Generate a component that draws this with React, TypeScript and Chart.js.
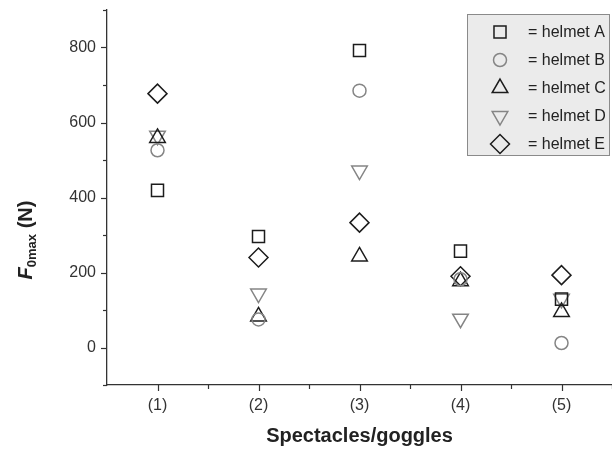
import React, { useEffect, useRef } from "react";
import { Chart, registerables } from "chart.js";
import { drawPoint } from "chart.js/helpers";

Chart.register(...registerables);

const categories = ["(1)", "(2)", "(3)", "(4)", "(5)"];
const yTickValues = [0, 200, 400, 600, 800];
const helmetA = [419, 296, 792, 257, 129];
const helmetB = [526, 75, 685, 182, 12];
const helmetC = [559, 83, 243, 177, 95];
const helmetD = [565, 144, 472, 77, 130];
const helmetE = [677, 240, 333, 190, 193];
const seriesNames = ["= helmet A", "= helmet B", "= helmet C", "= helmet D", "= helmet E"];

const DARK = "#1c1c1c";
const GREY = "#858585";
const FONT = "'Liberation Sans', Arial, sans-serif";

const markerDefs = [
  { style: "rect", color: DARK, radius: 8.5, rotation: 0 },
  { style: "circle", color: GREY, radius: 6.5, rotation: 0 },
  { style: "triangle", color: DARK, radius: 9, rotation: 0 },
  { style: "triangle", color: GREY, radius: 9, rotation: 180 },
  { style: "rectRot", color: DARK, radius: 9.5, rotation: 0 },
];

const allSeries = [helmetA, helmetB, helmetC, helmetD, helmetE];

const overlayPlugin = {
  id: "overlay",
  afterDraw(chart: any) {
    const ctx = chart.ctx as CanvasRenderingContext2D;
    const xs = chart.scales.x;
    const ys = chart.scales.y;
    const area = chart.chartArea;
    ctx.save();
    ctx.strokeStyle = "#333";
    ctx.lineWidth = 1.2;
    for (let v = -100; v <= 900; v += 100) {
      const py = Math.round(ys.getPixelForValue(v)) + 0.5;
      const major = v % 200 === 0;
      ctx.beginPath();
      ctx.moveTo(area.left, py);
      ctx.lineTo(area.left - (major ? 6 : 4), py);
      ctx.stroke();
    }
    for (let v = 1; v <= 5.5; v += 0.5) {
      const px = Math.round(xs.getPixelForValue(v)) + 0.5;
      const major = Number.isInteger(v);
      ctx.beginPath();
      ctx.moveTo(px, area.bottom);
      ctx.lineTo(px, area.bottom + (major ? 6 : 4));
      ctx.stroke();
    }
    // x tick labels
    ctx.fillStyle = "#333";
    ctx.font = `16px ${FONT}`;
    ctx.textAlign = "center";
    ctx.textBaseline = "middle";
    categories.forEach((c, i) => {
      ctx.fillText(c, xs.getPixelForValue(i + 1), area.bottom + 21);
    });

    ctx.fillStyle = "#222";
    ctx.font = `bold 20px ${FONT}`;
    ctx.textAlign = "center";
    ctx.textBaseline = "middle";
    ctx.fillText("Spectacles/goggles", (area.left + area.right) / 2, 436);

    ctx.save();
    ctx.translate(25, 240);
    ctx.rotate(-Math.PI / 2);
    ctx.textBaseline = "alphabetic";
    ctx.textAlign = "left";
    const partF = "F";
    const partSub = "0max";
    const partN = " (N)";
    ctx.font = `italic bold 20px ${FONT}`;
    const wF = ctx.measureText(partF).width;
    ctx.font = `bold 13px ${FONT}`;
    const wSub = ctx.measureText(partSub).width;
    ctx.font = `bold 20px ${FONT}`;
    const wN = ctx.measureText(partN).width;
    const total = wF + wSub + wN;
    let cx = -total / 2;
    const base = 7;
    ctx.font = `italic bold 20px ${FONT}`;
    ctx.fillText(partF, cx, base);
    cx += wF;
    ctx.font = `bold 13px ${FONT}`;
    ctx.fillText(partSub, cx, base + 4);
    cx += wSub;
    ctx.font = `bold 20px ${FONT}`;
    ctx.fillText(partN, cx, base);
    ctx.restore();

    const lx = 467.5, ly = 14.5, lw = 142, lh = 141;
    ctx.fillStyle = "#ebebeb";
    ctx.fillRect(lx, ly, lw, lh);
    ctx.strokeStyle = "#8a8a8a";
    ctx.lineWidth = 1;
    ctx.strokeRect(lx, ly, lw, lh);
    const rowY = [32, 60, 88, 116, 144];
    for (let i = 0; i < seriesNames.length; i++) {
      const m = markerDefs[i];
      ctx.strokeStyle = m.color;
      ctx.fillStyle = "rgba(0,0,0,0)";
      ctx.lineWidth = 1.5;
      drawPoint(ctx, { pointStyle: m.style, radius: m.radius, rotation: m.rotation, borderWidth: 1.5 } as any, 500, rowY[i]);
      ctx.fillStyle = "#222";
      ctx.font = `16px ${FONT}`;
      ctx.textAlign = "left";
      ctx.textBaseline = "middle";
      ctx.fillText(seriesNames[i], 528, rowY[i] + 1);
    }
    ctx.restore();
  },
};

export default function App() {
  const ref = useRef<HTMLCanvasElement | null>(null);
  useEffect(() => {
    document.body.style.margin = "0";
    const canvas = ref.current!;
    const datasets = allSeries.map((vals, i) => ({
      label: seriesNames[i],
      data: vals.map((v, j) => ({ x: j + 1, y: v })),
      pointStyle: markerDefs[i].style,
      pointRadius: markerDefs[i].radius,
      pointRotation: markerDefs[i].rotation,
      pointBorderColor: markerDefs[i].color,
      pointBackgroundColor: "rgba(0,0,0,0)",
      pointBorderWidth: 1.5,
      showLine: false,
    }));
    const chart = new Chart(canvas, {
      type: "scatter",
      data: { datasets },
      options: {
        responsive: false,
        animation: false,
        clip: false,
        layout: { autoPadding: false, padding: { top: 10, right: 0, left: 0, bottom: 0 } },
        plugins: { legend: { display: false }, tooltip: { enabled: false } },
        scales: {
          x: {
            type: "linear",
            min: 0.5,
            max: 5.5,
            afterFit: (s: any) => { s.height = 65; s.paddingLeft = 0; s.paddingRight = 0; },
            afterBuildTicks: (s: any) => { s.ticks = categories.map((_, i) => ({ value: i + 1 })); },
            ticks: { display: false },
            grid: { display: true, drawOnChartArea: false, drawTicks: false },
            border: { display: true, color: "#333", width: 1.3 },
          },
          y: {
            type: "linear",
            min: -100,
            max: 900,
            afterFit: (s: any) => { s.width = 107; s.paddingTop = 0; s.paddingBottom = 0; },
            afterBuildTicks: (s: any) => { s.ticks = yTickValues.map((v) => ({ value: v })); },
            ticks: {
              font: { family: FONT, size: 16 },
              color: "#333",
              padding: 11,
            },
            grid: { display: true, drawOnChartArea: false, drawTicks: false },
            border: { display: true, color: "#333", width: 1.3 },
          },
        },
      },
      plugins: [overlayPlugin],
    });
    return () => chart.destroy();
  }, []);
  return (
    <div style={{ position: "fixed", left: 0, top: 0, width: 612, height: 450, background: "#fff" }}>
      <canvas ref={ref} width={612} height={450} style={{ width: 612, height: 450 }} />
    </div>
  );
}
